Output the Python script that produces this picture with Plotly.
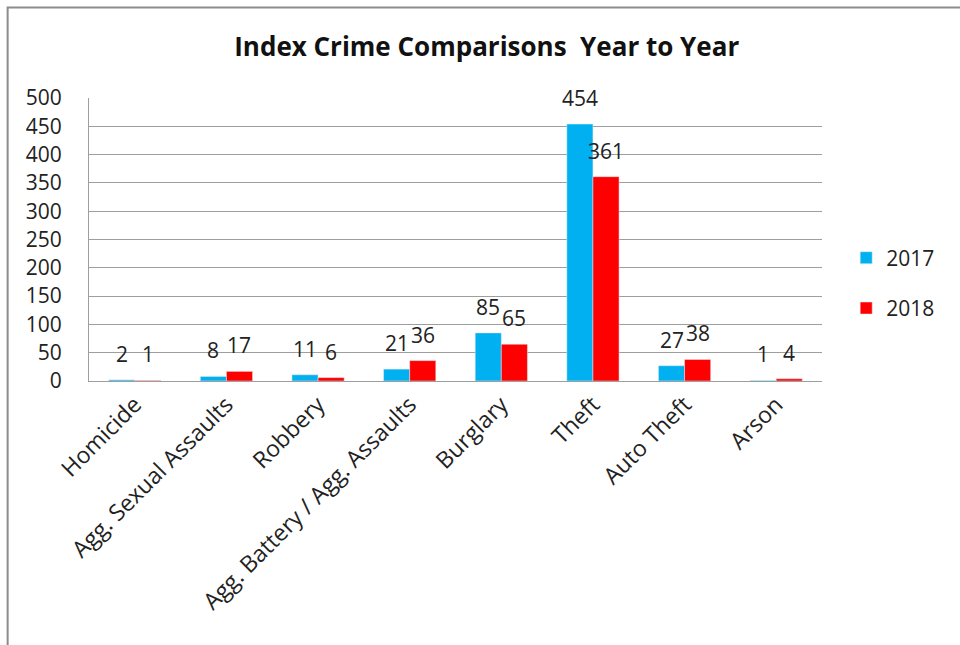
import plotly.graph_objects as go

categories = ["Homicide", "Agg. Sexual Assaults", "Robbery", "Agg. Battery / Agg. Assaults",
              "Burglary", "Theft", "Auto Theft", "Arson"]
values_2017 = [2, 8, 11, 21, 85, 454, 27, 1]
values_2018 = [1, 17, 6, 36, 65, 361, 38, 4]
y_ticks = [0, 50, 100, 150, 200, 250, 300, 350, 400, 450, 500]

FONT = "Open Sans"
series = [("2017", values_2017, "#00B0F0", -13), ("2018", values_2018, "#FF0000", 13)]

fig = go.Figure()
for name, vals, color, _ in series:
    fig.add_trace(go.Bar(x=categories, y=vals, name=name, marker_color=color, legendgroup=name))

# data labels, placed from the data values
for name, vals, color, xs in series:
    for c, v in zip(categories, vals):
        fig.add_annotation(x=c, y=v, text=str(v), showarrow=False, xshift=xs, yshift=26,
                           font=dict(size=21, family=FONT, color="#222"))

fig.update_layout(
    width=960, height=645,
    paper_bgcolor="white", plot_bgcolor="white",
    margin=dict(l=89, r=138, t=98, b=264, autoexpand=False),
    barmode="group", bargap=0.43, bargroupgap=0,
    title=dict(text="<b>Index Crime Comparisons  Year to Year</b>", x=0.507, xanchor="center",
               y=0.927, yanchor="middle", font=dict(size=26, family=FONT, color="#111")),
    font=dict(family=FONT, color="#222"),
    legend=dict(x=1.033, xanchor="left", y=0.346, yanchor="middle",
                font=dict(size=21, family=FONT), tracegroupgap=20, traceorder="grouped",
                itemwidth=30),
    showlegend=True,
)
fig.update_yaxes(range=[0, 500], tickvals=y_ticks, showgrid=True, gridcolor="#9e9e9e",
                 gridwidth=1, showline=True, linecolor="#9e9e9e", zeroline=False,
                 tickfont=dict(size=21, family=FONT), ticklabelstandoff=22)
fig.update_xaxes(showline=True, linecolor="#9e9e9e", tickangle=-45,
                 tickfont=dict(size=23, family=FONT), showgrid=False)
fig.add_shape(type="rect", xref="paper", yref="paper",
              x0=-0.111, x1=1.3, y0=-2, y1=1.32,
              line=dict(color="#8c8c8c", width=2), fillcolor="rgba(0,0,0,0)")

fig.write_html("out.html", post_script="document.body.style.margin='0';",
               config={"displayModeBar": False})
